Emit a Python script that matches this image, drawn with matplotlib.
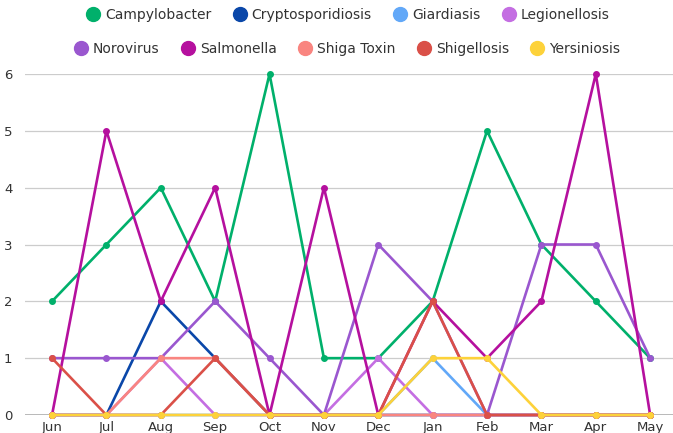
import matplotlib
matplotlib.use("Agg")
import matplotlib.pyplot as plt
from matplotlib.lines import Line2D

# -----------------------------
# Данные
# -----------------------------

months = ["Jun", "Jul", "Aug", "Sep", "Oct", "Nov", "Dec", "Jan", "Feb", "Mar", "Apr", "May"]

campylobacter = [2, 3, 4, 2, 6, 1, 1, 2, 5, 3, 2, 1]
cryptosporidiosis = [0, 0, 2, 1, 0, 0, 0, 0, 0, 0, 0, 0]
giardiasis = [0, 0, 0, 0, 0, 0, 0, 1, 0, 0, 0, 0]
legionellosis = [0, 0, 1, 0, 0, 0, 1, 0, 0, 0, 0, 0]
norovirus = [1, 1, 1, 2, 1, 0, 3, 2, 0, 3, 3, 1]
salmonella = [0, 5, 2, 4, 0, 4, 0, 2, 1, 2, 6, 0]
shiga_toxin = [0, 0, 1, 1, 0, 0, 0, 0, 0, 0, 0, 0]
shigellosis = [1, 0, 0, 1, 0, 0, 0, 2, 0, 0, 0, 0]
yersiniosis = [0, 0, 0, 0, 0, 0, 0, 1, 1, 0, 0, 0]

names = ["Campylobacter", "Cryptosporidiosis", "Giardiasis", "Legionellosis",
         "Norovirus", "Salmonella", "Shiga Toxin", "Shigellosis", "Yersiniosis"]
series = [campylobacter, cryptosporidiosis, giardiasis, legionellosis,
          norovirus, salmonella, shiga_toxin, shigellosis, yersiniosis]
colors = ["#00b06b", "#0a47a9", "#62a8f8", "#c46ee2",
          "#9a57cf", "#b5109e", "#f98580", "#da5048", "#fdd23a"]

plt.rcParams["font.family"] = ["DejaVu Sans"]

fig = plt.figure(figsize=(6.73, 4.33), dpi=100)
ax = fig.add_axes([25 / 673, 18 / 433, 648 / 673, 341 / 433])

x = list(range(len(months)))
for name, vals, c in zip(names, series, colors):
    ax.plot(x, vals, color=c, lw=1.9, marker="o", ms=4,
            label=name, clip_on=False, zorder=3)

ax.set_xlim(-0.497, 11.42)
ax.set_ylim(0, 6)
ax.set_yticks(range(7))
ax.set_xticks(x)
ax.set_xticklabels(months)

ax.grid(axis="y", color="#cccccc", lw=0.9)
ax.axhline(0, color="#aaaaaa", lw=1.2, zorder=1)
for s in ax.spines.values():
    s.set_visible(False)
ax.tick_params(length=0, labelsize=9.5, colors="#333333")
ax.tick_params(axis="x", pad=4)
ax.tick_params(axis="y", pad=9)

# легенда в две строки
handles = [Line2D([], [], ls="", marker="o", ms=10, color=c) for c in colors]
leg_kw = dict(loc="center", frameon=False, fontsize=10, labelcolor="#333333",
              handletextpad=0.35, columnspacing=1.55, handlelength=1.0)
fig.legend(handles[:4], names[:4], ncol=4,
           bbox_to_anchor=(0.517, 1 - 15 / 433), **leg_kw)
fig.legend(handles[4:], names[4:], ncol=5,
           bbox_to_anchor=(0.516, 1 - 49 / 433), **leg_kw)

fig.savefig("out.png", dpi=100)
